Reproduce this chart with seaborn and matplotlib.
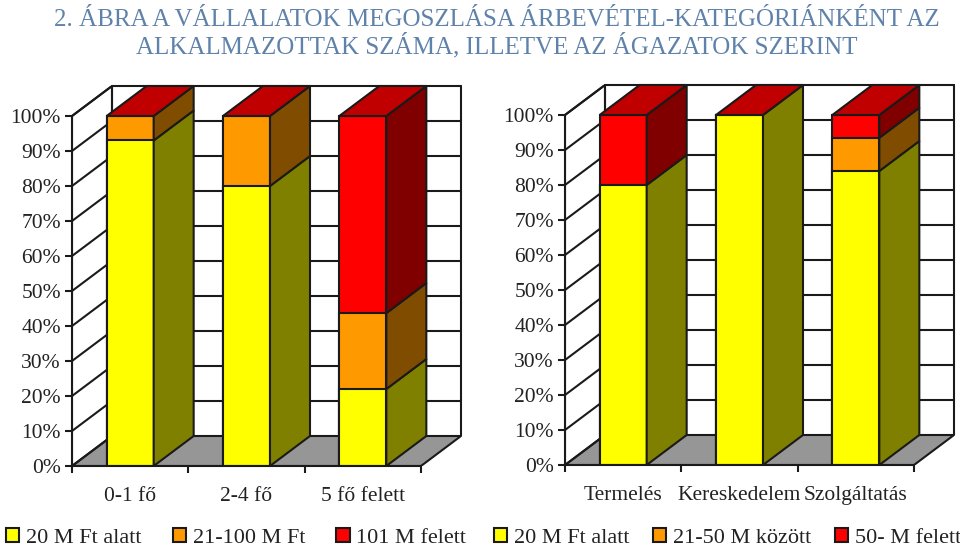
import matplotlib
matplotlib.use('Agg')
import matplotlib.pyplot as plt
from matplotlib.patches import Polygon, Patch
import numpy as np
import seaborn as sns

# --- data ---
left_cats = ['0-1 fő', '2-4 fő', '5 fő felett']
left_low = [93, 80, 22]
left_mid = [7, 20, 21.7]
left_high = [0, 0, 56.3]
left_legend = ['20 M Ft alatt', '21-100 M Ft', '101 M felett']

right_cats = ['Termelés', 'Kereskedelem', 'Szolgáltatás']
right_low = [80, 100, 84]
right_mid = [0, 0, 9.5]
right_high = [20, 0, 6.5]
right_legend = ['20 M Ft alatt', '21-50 M között', '50- M felett']

yticks = [0, 10, 20, 30, 40, 50, 60, 70, 80, 90, 100]

title = '2. ÁBRA A VÁLLALATOK MEGOSZLÁSA ÁRBEVÉTEL-KATEGÓRIÁNKÉNT AZ\nALKALMAZOTTAK SZÁMA, ILLETVE AZ ÁGAZATOK SZERINT'

# colours and 3d look
front = ['#FFFF00', '#FF9900', '#FF0000']
side = ['#808000', '#804D00', '#800000']
top_col = '#C00000'
floor_col = '#969696'
ink = '#222222'
lw = 1.5
DX = 40 / 116.33   # depth in category units
DY = 30 / 3.5      # depth in percent
BAR_W = 47 / 116.33

sns.set_theme(style='white')
plt.rcParams['font.family'] = ['Liberation Serif', 'DejaVu Serif']
W, H = 960, 547


def draw_panel(ax, cats, low, mid, high, names, legend_x, gap):
    x0, x1 = -0.5, 2.5
    ax.patch.set_alpha(0)

    # floor and walls
    ax.add_patch(Polygon([(x0, 0), (x1, 0), (x1 + DX, DY), (x0 + DX, DY)], fc=floor_col, ec='k', lw=lw, zorder=1))
    ax.add_patch(Polygon([(x0, 0), (x0 + DX, DY), (x0 + DX, 100 + DY), (x0, 100)], fc='none', ec='k', lw=lw, zorder=1))
    for t in yticks[1:]:
        ax.plot([x0, x0 + DX, x1 + DX], [t, t + DY, t + DY], color='k', lw=lw, zorder=1, clip_on=False)
    ax.plot([x0 + DX, x0 + DX], [DY, 100 + DY], color='k', lw=lw, zorder=1, clip_on=False)
    ax.plot([x1 + DX, x1 + DX], [DY, 100 + DY], color='k', lw=lw, zorder=1, clip_on=False)

    # front faces, tallest stack first so the lower ones sit on top
    low, mid, high = map(np.array, (low, mid, high))
    stacks = [low, low + mid, low + mid + high]
    for i in [2, 1, 0]:
        sns.barplot(x=cats, y=stacks[i], color=front[i], saturation=1, width=BAR_W,
                    edgecolor='k', linewidth=lw, ax=ax, zorder=3)

    # side and top faces
    for k in range(len(cats)):
        r = k + BAR_W / 2
        bottom = 0
        for i, vals in enumerate([low, mid, high]):
            v = vals[k]
            if v > 0:
                ax.add_patch(Polygon([(r, bottom), (r + DX, bottom + DY), (r + DX, bottom + v + DY), (r, bottom + v)],
                                     fc=side[i], ec='k', lw=lw, zorder=3))
            bottom += v
        ax.add_patch(Polygon([(r - BAR_W, bottom), (r, bottom), (r + DX, bottom + DY), (r + DX - BAR_W, bottom + DY)],
                             fc=top_col, ec='k', lw=lw, zorder=3, clip_on=False))

    # seaborn resets the limits, so they go after the bars
    ax.set_xlim(x0, x1 + DX)
    ax.set_ylim(0, 100 + DY)

    # axes
    sns.despine(ax=ax, top=True, right=True)
    ax.spines['left'].set_bounds(0, 100)
    ax.spines['bottom'].set_bounds(x0, x1)
    for s in ['left', 'bottom']:
        ax.spines[s].set_color('k')
        ax.spines[s].set_linewidth(lw)
        ax.spines[s].set_zorder(4)
    ax.set_yticks(yticks)
    ax.set_yticklabels([f'{t}%' for t in yticks])
    ax.set_xticks([0, 1, 2])
    ax.set_xticklabels(cats)
    ax.set_xticks([-0.5, 0.5, 1.5, 2.5], minor=True)
    ax.tick_params(axis='y', left=True, length=5, width=lw, color='k', labelsize=15.5, labelcolor=ink, pad=3)
    ax.tick_params(axis='x', which='major', bottom=False, labelsize=15.5, labelcolor=ink, pad=9)
    ax.tick_params(axis='x', which='minor', bottom=True, length=5, width=lw, color='k')
    ax.set_xlabel('')
    ax.set_ylabel('')

    handles = [Patch(fc=c, ec='k', lw=lw) for c in front]
    fig.legend(handles, names, ncol=3, frameon=False, loc='lower left',
               bbox_to_anchor=(legend_x / W, -0.004), fontsize=16, labelcolor=ink,
               handlelength=0.6, handleheight=0.6, handletextpad=0.3,
               columnspacing=gap, borderaxespad=0, borderpad=0.05)


def axes_box(left, right, bottom, top):
    return [left / W, 1 - bottom / H, (right - left) / W, (bottom - top) / H]


fig = plt.figure(figsize=(W / 100, H / 100), dpi=100)
ax1 = fig.add_axes(axes_box(72, 461, 466, 86))
ax2 = fig.add_axes(axes_box(565, 954, 465, 85))
draw_panel(ax1, left_cats, left_low, left_mid, left_high, left_legend, 5, 1.4)
draw_panel(ax2, right_cats, right_low, right_mid, right_high, right_legend, 493, 1.05)

fig.text(497 / W, 1 - 9 / H, title, ha='center', va='top', fontsize=18, color='#5F82AA', linespacing=1.08)

fig.savefig('out.png', dpi=100)
